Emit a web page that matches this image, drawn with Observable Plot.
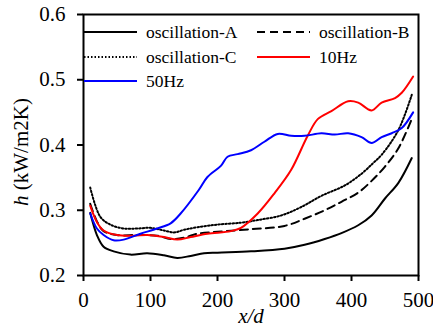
<!DOCTYPE html>
<html>
<head>
<meta charset="utf-8">
<script src="https://cdn.jsdelivr.net/npm/d3@7"></script>
<script src="https://cdn.jsdelivr.net/npm/@observablehq/plot@0.6"></script>
<style>
  html, body { margin: 0; padding: 0; background: #fff; }
  svg { display: block; }
  #chart svg, #chart svg text { font-family: "Liberation Serif", "Times New Roman", serif; }
</style>
</head>
<body>
<div id="chart"></div>
<script>
// Local heat transfer coefficient h along the channel (x/d) for each forcing case.
const xTicks = [0, 100, 200, 300, 400, 500];
const yTicks = [0.2, 0.3, 0.4, 0.5, 0.6];

const oscAX = [10, 20, 30, 45, 70, 95, 120, 140, 160, 180, 200, 250, 300, 330, 360, 385, 410, 430, 450, 470, 490];
const oscAH = [0.296, 0.262, 0.244, 0.237, 0.232, 0.234, 0.231, 0.227, 0.230, 0.234, 0.235, 0.237, 0.241, 0.247, 0.256, 0.265, 0.277, 0.292, 0.318, 0.342, 0.380];

const oscBX = [10, 20, 30, 50, 80, 110, 130, 150, 170, 200, 250, 300, 330, 360, 385, 410, 430, 450, 470, 490];
const oscBH = [0.310, 0.283, 0.268, 0.262, 0.262, 0.261, 0.256, 0.258, 0.264, 0.267, 0.271, 0.276, 0.287, 0.300, 0.313, 0.327, 0.345, 0.367, 0.395, 0.440];

const oscCX = [10, 25, 40, 60, 80, 100, 120, 135, 150, 170, 200, 235, 260, 295, 325, 355, 390, 415, 432, 445, 470, 490];
const oscCH = [0.335, 0.290, 0.278, 0.272, 0.272, 0.273, 0.269, 0.266, 0.270, 0.274, 0.278, 0.281, 0.285, 0.292, 0.305, 0.322, 0.338, 0.356, 0.372, 0.385, 0.423, 0.477];

const hz10X = [10, 20, 30, 50, 75, 95, 120, 140, 160, 185, 220, 235, 260, 285, 310, 335, 350, 370, 395, 410, 430, 445, 465, 475, 492];
const hz10H = [0.307, 0.282, 0.269, 0.262, 0.261, 0.262, 0.259, 0.255, 0.259, 0.264, 0.268, 0.273, 0.295, 0.326, 0.362, 0.415, 0.440, 0.452, 0.467, 0.465, 0.453, 0.465, 0.472, 0.480, 0.505];

const hz50X = [10, 20, 30, 45, 60, 85, 110, 130, 145, 172, 185, 205, 215, 230, 250, 270, 290, 310, 330, 355, 375, 395, 415, 430, 445, 460, 475, 492];
const hz50H = [0.295, 0.272, 0.262, 0.254, 0.255, 0.264, 0.272, 0.280, 0.295, 0.331, 0.351, 0.368, 0.382, 0.386, 0.392, 0.405, 0.417, 0.414, 0.414, 0.418, 0.416, 0.418, 0.412, 0.403, 0.412, 0.418, 0.426, 0.450];

const series = [
  {name: "oscillation-A", xs: oscAX, hs: oscAH, color: "#000000", dash: null},
  {name: "oscillation-B", xs: oscBX, hs: oscBH, color: "#000000", dash: "8,5"},
  {name: "oscillation-C", xs: oscCX, hs: oscCH, color: "#000000", dash: "1.5,2"},
  {name: "10Hz", xs: hz10X, hs: hz10H, color: "#ff0000", dash: null},
  {name: "50Hz", xs: hz50X, hs: hz50H, color: "#0000ff", dash: null}
];

const toRows = s => s.xs.map((x, i) => ({x, h: s.hs[i]}));

const font = "Liberation Serif, Times New Roman, serif";

const chart = Plot.plot({
  width: 433,
  height: 330,
  marginLeft: 83,
  marginRight: 15,
  marginTop: 14,
  marginBottom: 55,
  style: {fontFamily: font, fontSize: "21px", color: "#000", background: "#fff", overflow: "visible"},
  x: {domain: [0, 500]},
  y: {domain: [0.2, 0.6]},
  marks: [
    Plot.axisX({ticks: xTicks, tickSize: 6, tickPadding: 11, strokeWidth: 2, fontFamily: font, fontSize: 21, tickFormat: d => String(d), label: null}),
    Plot.axisY({ticks: yTicks, tickSize: 6, tickPadding: 12, strokeWidth: 2, fontFamily: font, fontSize: 21, tickFormat: d3.format(".1f"), label: null}),
    ...series.map(s => Plot.line(toRows(s), {
      x: "x", y: "h",
      stroke: s.color,
      strokeWidth: 2,
      strokeDasharray: s.dash || undefined,
      curve: "catmull-rom"
    })),
    Plot.frame({stroke: "#000", strokeWidth: 2})
  ]
});

document.getElementById("chart").appendChild(chart);

// Axis titles with italic symbols, and the in-plot legend
const svg = d3.select(chart);

svg.append("text")
  .attr("x", 251).attr("y", 323)
  .attr("text-anchor", "middle")
  .style("font-size", "21px").style("font-style", "italic")
  .text("x/d");

const yt = svg.append("text")
  .attr("transform", "translate(28,152) rotate(-90)")
  .attr("text-anchor", "middle")
  .style("font-size", "21px");
yt.append("tspan").style("font-style", "italic").text("h");
yt.append("tspan").text(" (kW/m2K)");

const legendItems = [
  {s: series[0], col: 0, row: 0},
  {s: series[1], col: 1, row: 0},
  {s: series[2], col: 0, row: 1},
  {s: series[3], col: 1, row: 1},
  {s: series[4], col: 0, row: 2}
];
const colX = [84, 257];
const rowY = [32, 57, 81];
const lg = svg.append("g").attr("text-anchor", "start");
legendItems.forEach(({s, col, row}) => {
  const x0 = colX[col], y0 = rowY[row];
  lg.append("line")
    .attr("x1", x0).attr("x2", x0 + 53)
    .attr("y1", y0).attr("y2", y0)
    .attr("stroke", s.color).attr("stroke-width", 2)
    .attr("stroke-dasharray", s.dash);
  lg.append("text")
    .attr("x", x0 + 62).attr("y", y0)
    .attr("dy", "0.32em")
    .attr("text-anchor", "start")
    .style("font-size", "17.5px")
    .text(s.name);
});
</script>
</body>
</html>
